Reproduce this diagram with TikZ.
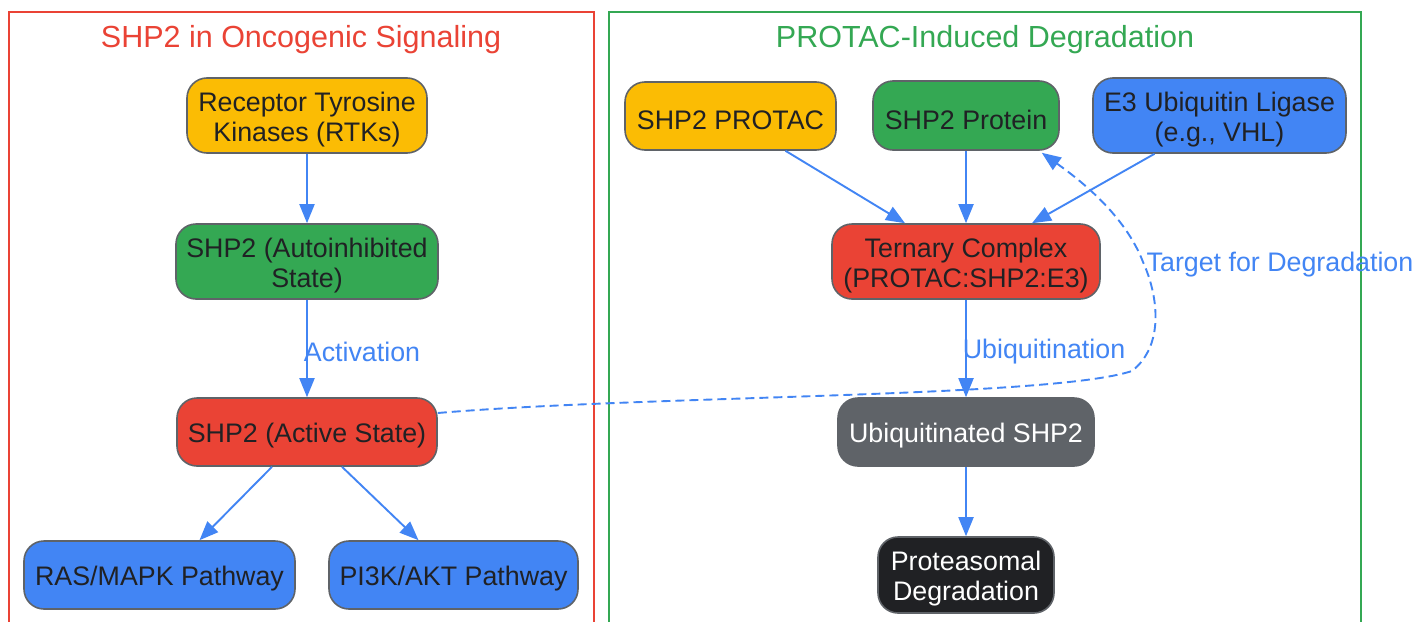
\documentclass[tikz,border=0pt]{standalone}
\usepackage{fontspec}
\setmainfont{Liberation Sans}
\usetikzlibrary{arrows.meta,calc}
\definecolor{gyellow}{HTML}{FBBC04}
\definecolor{ggreen}{HTML}{34A853}
\definecolor{gred}{HTML}{EA4335}
\definecolor{gblue}{HTML}{4285F4}
\definecolor{ggray}{HTML}{5F6368}
\definecolor{gdark}{HTML}{202124}
\definecolor{gborder}{HTML}{5F6368}
\tikzset{
  box/.style={draw=gborder, line width=1.6pt, rounded corners=20pt, inner sep=0pt},
  txt/.style={align=center, inner sep=0pt, yshift=-4pt,
    font=\fontsize{26.8}{30}\selectfont, text=gdark},
  wtxt/.style={txt, text=white},
  edge/.style={draw=gblue, line width=1.9pt, -{Triangle[length=19pt,width=15pt]}},
  elabel/.style={text=gblue, font=\fontsize{26.8}{30}\selectfont},
  cluster/.style={line width=1.8pt},
  ctitle/.style={font=\fontsize{30.5}{34}\selectfont}
}
\begin{document}
\begin{tikzpicture}[x=1pt,y=-1pt]
\useasboundingbox (0,0) rectangle (1415,621);
\clip (0,0) rectangle (1415,621);
\fill[white] (0,0) rectangle (1415,621);
% clusters
\draw[cluster, draw=gred] (9,12) rectangle (594,640);
\draw[cluster, draw=ggreen] (609,12) rectangle (1361,640);
\node[ctitle, text=gred] (t1) at (301,39.5) {SHP2 in Oncogenic Signaling};
\node[ctitle, text=ggreen] (t2) at (985,39.5) {PROTAC-Induced Degradation};
% left nodes
\node[box, fill=gyellow, minimum width=240pt, minimum height=75pt,
  label={[txt]center:{Receptor Tyrosine\\Kinases (RTKs)}}] (rtk) at (307,115.5) {};
\node[box, fill=ggreen, minimum width=262pt, minimum height=75pt,
  label={[txt]center:{SHP2 (Autoinhibited\\State)}}] (auto) at (307,261.5) {};
\node[box, fill=gred, minimum width=260pt, minimum height=68pt,
  label={[txt]center:{SHP2 (Active State)}}] (act) at (307,432) {};
\node[box, fill=gblue, minimum width=271pt, minimum height=68pt,
  label={[txt]center:{RAS/MAPK Pathway}}] (ras) at (159.5,575) {};
\node[box, fill=gblue, minimum width=249pt, minimum height=68pt,
  label={[txt]center:{PI3K/AKT Pathway}}] (pik) at (453.5,575) {};
% right nodes
\node[box, fill=gyellow, minimum width=211pt, minimum height=68pt,
  label={[txt]center:{SHP2 PROTAC}}] (protac) at (730.5,116) {};
\node[box, fill=ggreen, minimum width=186pt, minimum height=69pt,
  label={[txt]center:{SHP2 Protein}}] (prot) at (966,115.5) {};
\node[box, fill=gblue, minimum width=253pt, minimum height=75pt,
  label={[txt]center:{E3 Ubiquitin Ligase\\(e.g., VHL)}}] (e3) at (1219.5,115.5) {};
\node[box, fill=gred, minimum width=268pt, minimum height=75pt,
  label={[txt]center:{Ternary Complex\\(PROTAC:SHP2:E3)}}] (tern) at (966,261.5) {};
\node[box, fill=ggray, minimum width=256pt, minimum height=68pt,
  label={[wtxt]center:{Ubiquitinated SHP2}}] (ubi) at (966,432) {};
\node[box, fill=gdark, minimum width=176pt, minimum height=76pt,
  label={[wtxt]center:{Proteasomal\\Degradation}}] (deg) at (966,575) {};
% left edges
\draw[edge] (rtk) -- (auto);
\draw[edge] (auto) -- (act);
\node[elabel] (lact) at (362,352) {Activation};
\draw[edge] ($(act.south)+(-35,0)$) -- ($(ras.north)+(40,0)$);
\draw[edge] ($(act.south)+(35,0)$) -- ($(pik.north)+(-35,0)$);
% right edges
\draw[edge] ($(protac.south)+(55,0)$) -- ($(tern.north)+(-61,0)$);
\draw[edge] (prot) -- (tern);
\draw[edge] ($(e3.south)+(-65,0)$) -- ($(tern.north)+(66,0)$);
\draw[edge] (tern) -- (ubi);
\node[elabel] (lubi) at (1044,352) {Ubiquitination};
\draw[edge] (ubi) -- (deg);
% dashed
\coordinate (c1) at (1132,371);
\coordinate (c2) at (1143,262);
\draw[edge, dashed, dash pattern=on 9pt off 5pt] ($(act.east)+(0,-19)$) .. controls (650,395) and (1050,398) .. (c1) .. controls (1165,345) and (1158,295) .. (c2) .. controls (1125,215) and (1080,180) .. ($(prot.south east)+(-18,2)$);
\node[elabel] (ltar) at (1280,265) {Target for Degradation};
\end{tikzpicture}
\end{document}
